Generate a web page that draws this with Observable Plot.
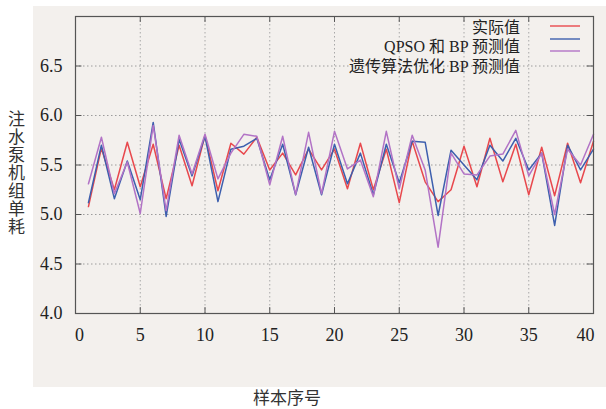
<!DOCTYPE html>
<html><head><meta charset="utf-8">
<script src="https://cdn.jsdelivr.net/npm/d3@7"></script>
<script src="https://cdn.jsdelivr.net/npm/@observablehq/plot@0.6"></script>
<style>
body{margin:0;background:#fff;}
#wrap{position:relative;width:606px;height:409px;overflow:hidden;}
#bg{position:absolute;left:33px;top:6px;width:573px;height:381px;background:#f3f0ed;}
#chart{position:absolute;left:0;top:0;}
#ytitle{position:absolute;left:8px;top:110px;writing-mode:vertical-rl;text-orientation:upright;font-family:"Noto Sans CJK SC",sans-serif;font-size:17px;color:#333;letter-spacing:1px;line-height:17px;}
#xtitle{position:absolute;left:253px;top:387px;font-family:"Noto Sans CJK SC",sans-serif;font-size:17px;color:#333;line-height:20px;}
.leg{position:absolute;right:86px;font-family:"Liberation Serif","Noto Sans CJK SC",serif;font-size:16px;color:#222;white-space:nowrap;line-height:18px;text-align:right;}
#legsw{position:absolute;left:550px;top:20px;}
</style></head>
<body>
<div id="wrap">
  <div id="bg"></div>
  <div id="chart"></div>
  <div id="ytitle"></div>
  <div id="xtitle"></div>
  <div id="legend"></div>
</div>
<script>
const samples = [1,2,3,4,5,6,7,8,9,10,11,12,13,14,15,16,17,18,19,20,21,22,23,24,25,26,27,28,29,30,31,32,33,34,35,36,37,38,39,40];
const actual = [5.08,5.67,5.25,5.73,5.28,5.71,5.16,5.70,5.29,5.80,5.24,5.72,5.61,5.78,5.45,5.62,5.40,5.66,5.45,5.66,5.26,5.72,5.25,5.66,5.12,5.74,5.33,5.13,5.25,5.69,5.28,5.77,5.33,5.71,5.20,5.68,5.19,5.72,5.32,5.74];
const qpsoBP = [5.12,5.70,5.16,5.54,5.15,5.93,4.98,5.76,5.39,5.79,5.13,5.66,5.69,5.77,5.35,5.71,5.20,5.68,5.20,5.71,5.31,5.62,5.20,5.71,5.32,5.74,5.73,4.99,5.65,5.50,5.35,5.70,5.54,5.77,5.45,5.62,4.89,5.70,5.45,5.66];
const gaBP = [5.31,5.78,5.21,5.53,5.01,5.90,5.04,5.80,5.41,5.81,5.36,5.62,5.81,5.79,5.30,5.79,5.20,5.83,5.21,5.84,5.46,5.55,5.18,5.84,5.26,5.80,5.45,4.67,5.62,5.41,5.40,5.59,5.61,5.85,5.39,5.62,5.00,5.66,5.50,5.81];
const seriesNames = ["实际值","QPSO 和 BP 预测值","遗传算法优化 BP 预测值"];
const seriesColors = ["#e8484d","#3d5fae","#b273c6"];
const xTicks = [0,5,10,15,20,25,30,35,40];
const yTicks = [4.0,4.5,5.0,5.5,6.0,6.5];
const xTitle = "样本序号";
const yTitle = "注水泵机组单耗";

const rows = [];
[actual, qpsoBP, gaBP].forEach((arr, k) => {
  samples.forEach((s, i) => rows.push({s, v: arr[i], k: seriesNames[k]}));
});

const innerX = xTicks.slice(1, -1);
const innerY = yTicks.slice(1);
const allY = yTicks.concat([7]);

const chart = Plot.plot({
  width: 606, height: 409,
  marginLeft: 75, marginRight: 13, marginTop: 16, marginBottom: 96,
  style: {background: "transparent", fontFamily: "'Liberation Serif', serif", fontSize: "18px", color: "#222"},
  x: {domain: [0, 40]},
  y: {domain: [4, 7]},
  color: {domain: seriesNames, range: seriesColors},
  marks: [
    Plot.ruleY(innerY, {stroke: "#9c9c9c", strokeDasharray: "1.5,2.5", strokeWidth: 1}),
    Plot.ruleX(innerX, {stroke: "#a8a8a8", strokeDasharray: "1.5,2.5", strokeWidth: 1}),
    Plot.ruleY(allY, {x1: 0, x2: 0.5, stroke: "#555"}),
    Plot.ruleY(allY, {x1: 39.5, x2: 40, stroke: "#555"}),
    Plot.ruleX(xTicks, {y1: 4, y2: 4.06, stroke: "#555"}),
    Plot.ruleX(xTicks, {y1: 6.94, y2: 7, stroke: "#555"}),
    Plot.line(rows, {x: "s", y: "v", z: "k", stroke: "k", strokeWidth: 1.5}),
    Plot.frame({stroke: "#555", strokeWidth: 1.2}),
    Plot.axisX([xTicks[0]], {tickSize: 0, tickPadding: 15, label: null, dx: 4}),
    Plot.axisX(innerX, {tickSize: 0, tickPadding: 15, label: null}),
    Plot.axisX([xTicks[xTicks.length - 1]], {tickSize: 0, tickPadding: 15, label: null, dx: -8}),
    Plot.axisY(yTicks, {tickSize: 0, tickPadding: 13, label: null, tickFormat: d => d.toFixed(1)})
  ]
});
document.getElementById("chart").appendChild(chart);
document.getElementById("ytitle").textContent = yTitle;
document.getElementById("xtitle").textContent = xTitle;

const legend = document.getElementById("legend");
const textTops = [19, 38, 58];
seriesNames.forEach((n, i) => {
  const d = document.createElement("div");
  d.className = "leg";
  d.style.top = textTops[i] + "px";
  d.textContent = n;
  legend.appendChild(d);
});
const sw = d3.create("svg").attr("id", "legsw").attr("width", 32).attr("height", 36);
const swY = [6, 19, 31];
seriesColors.forEach((c, i) => {
  sw.append("line").attr("x1", 0).attr("x2", 30).attr("y1", swY[i]).attr("y2", swY[i]).attr("stroke", c).attr("stroke-width", 1.4);
});
legend.appendChild(sw.node());
</script>
</body></html>
